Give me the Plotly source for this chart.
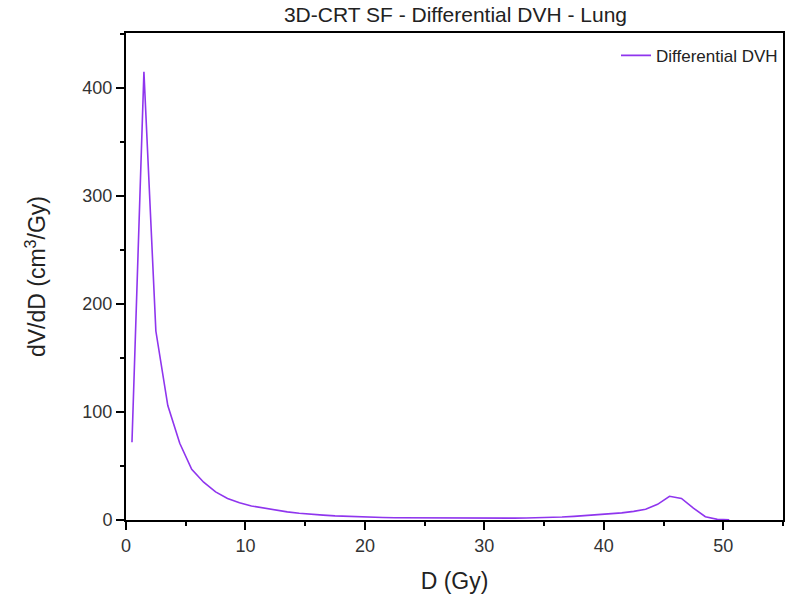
import plotly.graph_objects as go

dose_gy = [0.5, 1.5, 2.5, 3.5, 4.5, 5.5, 6.5, 7.5, 8.5, 9.5,
           10.5, 11.5, 12.5, 13.5, 14.5, 15.5, 16.5, 17.5, 18.5, 19.5,
           20.5, 21.5, 22.5, 23.5, 24.5, 25.5, 26.5, 27.5, 28.5, 29.5,
           30.5, 31.5, 32.5, 33.5, 34.5, 35.5, 36.5, 37.5, 38.5, 39.5,
           40.5, 41.5, 42.5, 43.5, 44.5, 45.5, 46.5, 47.5, 48.5, 49.5, 50.5]
dvdd = [72, 415, 175, 106, 71, 47, 35, 26, 20, 16,
        13, 11, 9, 7.5, 6.3, 5.2, 4.5, 3.8, 3.3, 2.9,
        2.6, 2.3, 2.1, 2.0, 1.9, 1.8, 1.7, 1.7, 1.6, 1.6,
        1.6, 1.6, 1.7, 1.8, 2.0, 2.3, 2.8, 3.4, 4.1, 4.9,
        5.7, 6.6, 8.0, 10, 14.5, 22, 20, 11, 3, 0.6, 0.2]

FONT = "Liberation Sans, Arial, sans-serif"

fig = go.Figure()
fig.add_trace(go.Scatter(x=dose_gy, y=dvdd, mode="lines", name="Differential DVH",
                         line=dict(color="#8F35EE", width=1.6)))

axis_common = dict(showline=True, linecolor="black", linewidth=2, mirror=True,
                   ticks="outside", ticklen=8, tickwidth=1.8, tickcolor="black",
                   showgrid=False, zeroline=False,
                   tickfont=dict(family=FONT, size=18, color="#333"),
                   minor=dict(ticks="outside", ticklen=4, tickwidth=1.8, tickcolor="black"))

fig.update_layout(
    width=788, height=597,
    margin=dict(l=126, r=3, t=33, b=77),
    paper_bgcolor="white", plot_bgcolor="white",
    title=dict(text="3D-CRT SF - Differential DVH - Lung", x=0.578, xanchor="center",
               y=0.976, yanchor="middle",
               font=dict(family=FONT, size=21, color="#222")),
    xaxis=dict(range=[0, 55], dtick=10, tick0=0, **axis_common,
               title=dict(text="D (Gy)", standoff=18,
                          font=dict(family=FONT, size=23, color="#222"))),
    yaxis=dict(range=[0, 451], dtick=100, tick0=0, **axis_common,
               title=dict(text="dV/dD (cm<sup>3</sup>/Gy)", standoff=30,
                          font=dict(family=FONT, size=23, color="#222"))),
    legend=dict(x=1.0, y=0.99, xanchor="right", yanchor="top", bgcolor="rgba(0,0,0,0)",
                font=dict(family=FONT, size=17, color="#222")),
    showlegend=True,
)
fig.update_xaxes(minor=dict(dtick=5))
fig.update_yaxes(minor=dict(dtick=50))

fig.write_html("out.html")
